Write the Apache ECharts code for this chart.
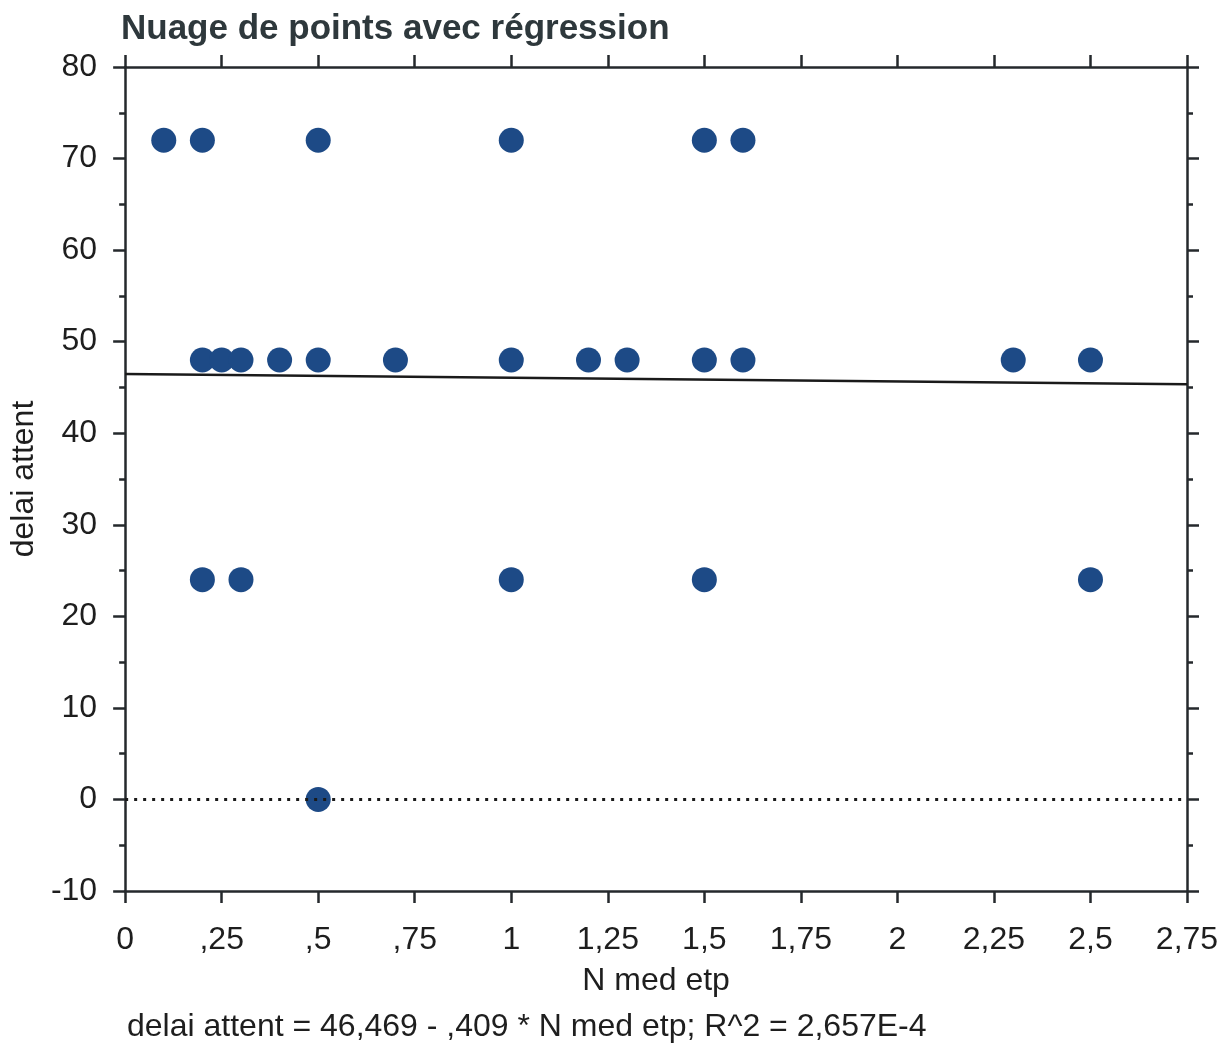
<!DOCTYPE html>
<html>
<head>
<meta charset="utf-8">
<script src="https://cdn.jsdelivr.net/npm/echarts@6/dist/echarts.min.js"></script>
<style>
    html, body { margin: 0; padding: 0; background: #fff; }
    #scatter_chart { width: 1222px; height: 1046px; }
</style>
</head>
<body>
<div id="scatter_chart"></div>
<script>
// points
var nMedEtp = [0.1, 0.2, 0.5, 1, 1.5, 1.6,
    0.2, 0.25, 0.3, 0.4, 0.5, 0.7, 1, 1.2, 1.3, 1.5, 1.6, 2.3, 2.5,
    0.2, 0.3, 1, 1.5, 2.5,
    0.5];
var delaiAttent = [72, 72, 72, 72, 72, 72,
    48, 48, 48, 48, 48, 48, 48, 48, 48, 48, 48, 48, 48,
    24, 24, 24, 24, 24,
    0];
// regression line ends (46,469 - ,409 * x)
var regX = [0, 2.75];
var regY = [46.469, 45.344];
var xTicks = ["0", ",25", ",5", ",75", "1", "1,25", "1,5", "1,75", "2", "2,25", "2,5", "2,75"];

var font = "'Liberation Sans', Arial, sans-serif";
var axisColor = "#25292c";

var chart = echarts.init(document.getElementById("scatter_chart"));

function xAxisBase(pos) {
    return {
        type: "value",
        position: pos,
        min: 0,
        max: 2.75,
        interval: 0.25,
        axisLine: { show: true, onZero: false, lineStyle: { color: axisColor, width: 2.5 } },
        axisTick: { show: true, length: 12, lineStyle: { color: axisColor, width: 2.5 } },
        splitLine: { show: false }
    };
}
function yAxisBase(pos) {
    return {
        type: "value",
        position: pos,
        min: -10,
        max: 80,
        interval: 10,
        axisLine: { show: true, onZero: false, lineStyle: { color: axisColor, width: 2.5 } },
        axisTick: { show: true, length: 12, lineStyle: { color: axisColor, width: 2.5 } },
        minorTick: { show: true, splitNumber: 2, length: 6, lineStyle: { color: axisColor, width: 2.5 } },
        splitLine: { show: false }
    };
}

var xBottom = xAxisBase("bottom");
xBottom.name = "N med etp";
xBottom.nameLocation = "middle";
xBottom.nameGap = 74;
xBottom.nameTextStyle = { fontFamily: font, fontSize: 32, color: "#1e1e1e" };
xBottom.axisLabel = {
    margin: 33,
    fontFamily: font,
    fontSize: 32,
    color: "#1e1e1e",
    formatter: function (v) { return xTicks[Math.round(v / 0.25)]; }
};
var xTop = xAxisBase("top");
xTop.axisLabel = { show: false };

var yLeft = yAxisBase("left");
yLeft.name = "delai attent";
yLeft.nameLocation = "middle";
yLeft.nameGap = 80;
yLeft.nameTextStyle = { fontFamily: font, fontSize: 32, color: "#1e1e1e" };
yLeft.axisLabel = { margin: 28, fontFamily: font, fontSize: 32, color: "#1e1e1e" };
var yRight = yAxisBase("right");
yRight.axisLabel = { show: false };

var option = {
    backgroundColor: "#fff",
    animation: false,
    title: {
        text: "Nuage de points avec régression",
        left: 116,
        top: 7,
        textStyle: { fontFamily: font, fontSize: 35, fontWeight: "bold", color: "#2e383c" }
    },
    grid: { left: 124, right: 35, top: 67, bottom: 155 },
    xAxis: [xBottom, xTop],
    yAxis: [yLeft, yRight],
    graphic: [{
        type: "text",
        left: 127,
        top: 1011,
        style: {
            text: "delai attent = 46,469 - ,409 * N med etp; R^2 = 2,657E-4",
            font: "32px " + font,
            fill: "#1e1e1e"
        }
    }],
    series: [
        {
            name: "regression",
            type: "line",
            data: regX.map(function (x, i) { return [x, regY[i]]; }),
            symbol: "none",
            lineStyle: { color: "#1a1a1a", width: 2.5 },
            z: 1,
            markLine: {
                silent: true,
                symbol: "none",
                label: { show: false },
                lineStyle: { color: "#1a1a1a", width: 3, type: [3, 6] },
                data: [{ yAxis: 0 }]
            }
        },
        {
            name: "delai attent",
            type: "scatter",
            data: nMedEtp.map(function (x, i) { return [x, delaiAttent[i]]; }),
            symbolSize: 25,
            itemStyle: { color: "#1d4a86", opacity: 1 },
            z: 3
        }
    ]
};
chart.setOption(option);
</script>
</body>
</html>
